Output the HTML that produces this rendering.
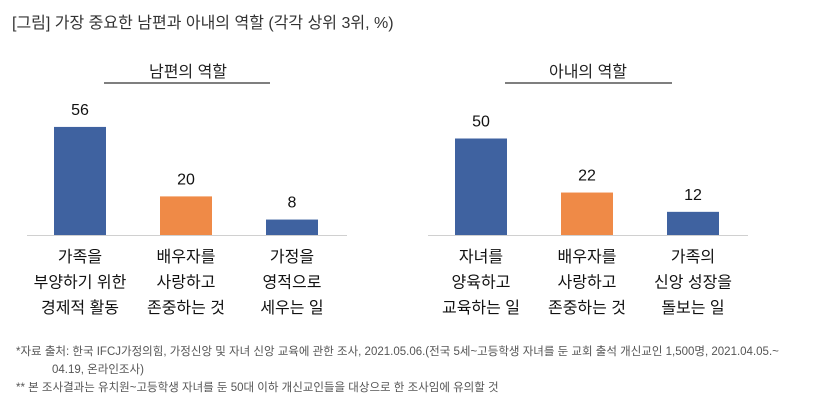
<!DOCTYPE html>
<html><head><meta charset="utf-8">
<style>
body{margin:0;width:835px;height:406px;background:#fff;overflow:hidden;font-family:"Liberation Sans","Noto Sans CJK KR",sans-serif;color:#222}
</style></head><body>
<svg width="835" height="406" xmlns="http://www.w3.org/2000/svg" style="font-family:'Liberation Sans','Noto Sans CJK KR',sans-serif">
<text x="12" y="28" font-size="16" fill="#333">[그림] 가장 중요한 남편과 아내의 역할 (각각 상위 3위, %)</text>
<text x="188" y="77" font-size="16" text-anchor="middle" fill="#222">남편의 역할</text>
<line x1="104" y1="83" x2="270" y2="83" stroke="#333" stroke-width="1.2"/>
<text x="588" y="77" font-size="16" text-anchor="middle" fill="#222">아내의 역할</text>
<line x1="505" y1="83" x2="672" y2="83" stroke="#333" stroke-width="1.2"/>
<g id="bars"></g>
<g font-size="11.5" fill="#555">
<text x="16" y="355">*자료 출처: 한국 IFCJ가정의힘, 가정신앙 및 자녀 신앙 교육에 관한 조사, 2021.05.06.(전국 5세~고등학생 자녀를 둔 교회 출석 개신교인 1,500명, 2021.04.05.~</text>
<text x="52" y="373">04.19, 온라인조사)</text>
<text x="16" y="391">** 본 조사결과는 유치원~고등학생 자녀를 둔 50대 이하 개신교인들을 대상으로 한 조사임에 유의할 것</text>
</g>
</svg>
<script>
const husbandValues=[56,20,8];
const wifeValues=[50,22,12];
const husbandCats=[["가족을","부양하기 위한","경제적 활동"],["배우자를","사랑하고","존중하는 것"],["가정을","영적으로","세우는 일"]];
const wifeCats=[["자녀를","양육하고","교육하는 일"],["배우자를","사랑하고","존중하는 것"],["가족의","신앙 성장을","돌보는 일"]];
const colors=["#3f62a0","#ef8a47","#3f62a0"];
const NS="http://www.w3.org/2000/svg";
const g=document.getElementById('bars');
const base=235, scale=1.93;
function y(v){return base-v*scale;}
function panel(x0,vals,cats,key){
  const ax=document.createElementNS(NS,'line');
  
  
  ax.setAttribute('x1',x0);ax.setAttribute('x2',x0+320);ax.setAttribute('y1',base+0.5);ax.setAttribute('y2',base+0.5);
  ax.setAttribute('stroke','#d0d0d0');ax.setAttribute('stroke-width','1');
  g.appendChild(ax);
  vals.forEach((v,i)=>{
    const cx=x0+53+i*106;
    const r=document.createElementNS(NS,'rect');
    
    
    r.setAttribute('x',cx-26);r.setAttribute('width',52);r.setAttribute('y',y(v));r.setAttribute('height',base-y(v));
    r.setAttribute('fill',colors[i]);
    g.appendChild(r);
    const t=document.createElementNS(NS,'text');
    
    
    t.setAttribute('x',cx);t.setAttribute('y',y(v)-12);t.setAttribute('text-anchor','middle');t.setAttribute('font-size','16');t.setAttribute('fill','#111');
    t.textContent=v;g.appendChild(t);
    cats[i].forEach((line,j)=>{
      const c=document.createElementNS(NS,'text');
      
      
      c.setAttribute('x',cx);c.setAttribute('y',262+j*25.5);c.setAttribute('text-anchor','middle');c.setAttribute('font-size','16');c.setAttribute('fill','#111');
      c.textContent=line;g.appendChild(c);
    });
  });
}
panel(27,husbandValues,husbandCats,'husband');
panel(428,wifeValues,wifeCats,'wife');
</script>
</body></html>
